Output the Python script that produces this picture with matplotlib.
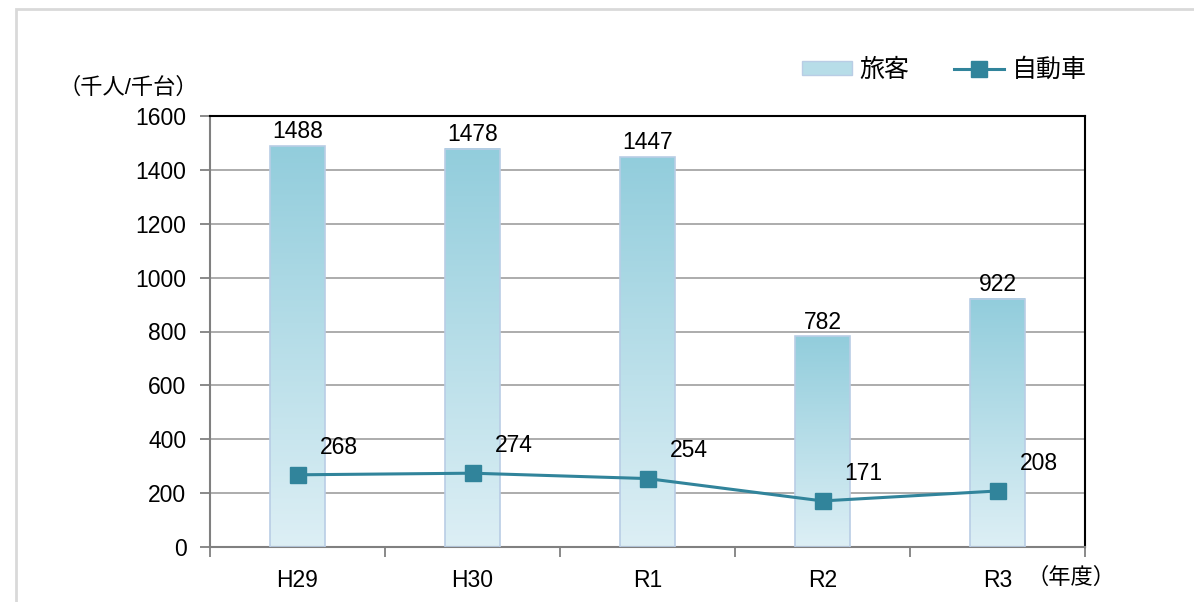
import matplotlib
matplotlib.use("Agg")
import matplotlib.pyplot as plt
import numpy as np
from matplotlib.patches import Rectangle
from matplotlib.lines import Line2D

plt.rcParams['font.family'] = ['Liberation Sans', 'Noto Sans CJK JP', 'DejaVu Sans']

categories = ["H29", "H30", "R1", "R2", "R3"]
passengers = [1488, 1478, 1447, 782, 922]
vehicles = [268, 274, 254, 171, 208]
yticks = [0, 200, 400, 600, 800, 1000, 1200, 1400, 1600]

bar_top = np.array([0x92, 0xCD, 0xDC]) / 255
bar_bottom = np.array([0xDD, 0xEF, 0xF5]) / 255
line_color = "#31849B"
bar_edge = "#B9CDE5"

fig = plt.figure(figsize=(11.94, 6.02), dpi=100)
# outer light border of the chart area
fig.add_artist(Rectangle((16 / 1194, -0.1), 1.2, 1 - 9 / 602 + 0.1,
                         transform=fig.transFigure, fill=False,
                         edgecolor="#D9D9D9", linewidth=2))

ax = fig.add_axes([210 / 1194, 1 - 547 / 602, 875 / 1194, 431 / 602])
x = np.arange(len(categories))

bars = ax.bar(x, passengers, width=0.31, color="none", edgecolor=bar_edge,
              linewidth=1.2, zorder=3)

# vertical gradient inside each bar
grad = np.linspace(0, 1, 256)[:, None]
img = bar_bottom[None, None, :] * (1 - grad[:, :, None]) + bar_top[None, None, :] * grad[:, :, None]
for b in bars:
    ax.imshow(img, extent=(b.get_x(), b.get_x() + b.get_width(), 0, b.get_height()),
              origin="lower", aspect="auto", zorder=2)
ax.set_xlim(-0.5, len(categories) - 0.5)
ax.set_ylim(0, 1600)

for b, v in zip(bars, passengers):
    ax.annotate(str(v), (b.get_x() + b.get_width() / 2, v), xytext=(0, 2),
                textcoords="offset points", ha="center", va="bottom", fontsize=16.5)

ax.plot(x, vehicles, color=line_color, linewidth=2.2, marker="s", markersize=11,
        zorder=4)
for xi, v in zip(x, vehicles):
    ax.annotate(str(v), (xi, v), xytext=(16, 20), textcoords="offset points",
                ha="left", va="center", fontsize=16.5)

ax.set_yticks(yticks)
ax.set_yticklabels([str(t) for t in yticks], fontsize=16.5)
ax.yaxis.grid(True, color="#A6A6A6", linewidth=1.3, zorder=0)
ax.set_axisbelow(True)

ax.set_xticks(np.arange(-0.5, len(categories), 1.0))
ax.set_xticklabels([])
ax.set_xticks(x, minor=True)
ax.set_xticklabels(categories, minor=True, fontsize=16.5)
ax.tick_params(axis="x", which="minor", length=0, pad=16)
ax.tick_params(axis="x", which="major", length=7, width=1.3, color="#808080",
               direction="out")
ax.tick_params(axis="y", length=7, width=1.3, color="#808080", direction="out", pad=10)

ax.spines["left"].set_color("#808080")
ax.spines["bottom"].set_color("#808080")
ax.spines["left"].set_linewidth(1.5)
ax.spines["bottom"].set_linewidth(1.5)
ax.spines["top"].set_color("black")
ax.spines["right"].set_color("black")
ax.spines["top"].set_linewidth(1.5)
ax.spines["right"].set_linewidth(1.5)

fig.text(58 / 1194, 1 - 88 / 602, "（千人/千台）", fontsize=16, va="center", ha="left")
fig.text(1026 / 1194, 1 - 578 / 602, "（年度）", fontsize=16, va="center", ha="left")

handles = [
    Rectangle((0, 0), 1, 1, facecolor="#B7DDE8", edgecolor=bar_edge),
    Line2D([], [], color=line_color, linewidth=2.2, marker="s", markersize=11),
]
fig.legend(handles, ["旅客", "自動車"], loc="center", ncol=2, frameon=False,
           bbox_to_anchor=(944 / 1194, 1 - 70 / 602), fontsize=18,
           handlelength=2.0, handleheight=0.5, columnspacing=1.8, handletextpad=0.3)

fig.savefig("out.png", dpi=100)
